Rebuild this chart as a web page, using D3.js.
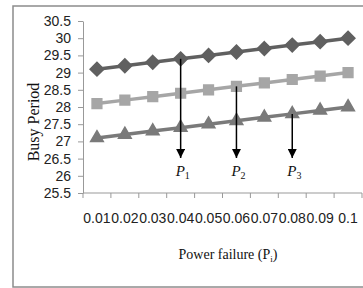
<!DOCTYPE html>
<html>
<head>
<meta charset="utf-8">
<script src="https://cdn.jsdelivr.net/npm/d3@7"></script>
<style>
  body { margin: 0; background: #fff; }
  .tick text { font-family: "Liberation Sans", Arial, sans-serif; font-size: 14px; fill: #222; }
  .axis path, .axis line { stroke: #999; }
  .title { font-family: "Liberation Serif", "Times New Roman", serif; fill: #111; }
</style>
</head>
<body>
<svg id="myGraph" width="363" height="288"></svg>
<script>
// data
var categories = ["0.01", "0.02", "0.03", "0.04", "0.05", "0.06", "0.07", "0.08", "0.09", "0.1"];
var series1 = [29.1, 29.2, 29.3, 29.4, 29.5, 29.6, 29.7, 29.8, 29.9, 30.0]; // diamonds
var series2 = [28.1, 28.2, 28.3, 28.4, 28.5, 28.6, 28.7, 28.8, 28.9, 29.0]; // squares
var series3 = [27.1, 27.2, 27.3, 27.4, 27.5, 27.6, 27.7, 27.8, 27.9, 28.0]; // triangles
var yTicks = [25.5, 26, 26.5, 27, 27.5, 28, 28.5, 29, 29.5, 30, 30.5];
// arrows: which series / category they start from
var arrowSeries = [1, 2, 3];
var arrowCats = ["0.04", "0.06", "0.08"];

var svg = d3.select("#myGraph");

// frame
svg.append("rect")
  .attr("x", 13).attr("y", 6)
  .attr("width", 360).attr("height", 281)
  .attr("fill", "none").attr("stroke", "#8c8c8c").attr("stroke-width", 1.5);

var pLeft = 83, pRight = 362, pTop = 21, pBottom = 193;

var x = d3.scaleBand().domain(categories).range([pLeft, pRight]);
var y = d3.scaleLinear().domain([25.5, 30.5]).range([pBottom, pTop]);

// y axis
svg.append("g")
  .attr("class", "axis")
  .attr("transform", "translate(" + pLeft + ",0)")
  .call(d3.axisLeft(y).tickValues(yTicks).tickSize(5).tickPadding(7).tickSizeOuter(0)
    .tickFormat(function(d){ return d; }));

// x axis (ticks on band edges)
var xg = svg.append("g")
  .attr("class", "axis")
  .attr("transform", "translate(0," + pBottom + ")")
  .call(d3.axisBottom(x).tickSize(0).tickPadding(20).tickSizeOuter(0));
xg.select(".domain").attr("d", "M" + pLeft + ",0H" + pRight);
xg.selectAll(".edge")
  .data(categories.concat(["end"]))
  .enter().append("line")
  .attr("stroke", "#999")
  .attr("x1", function(d, i){ return pLeft + i * x.bandwidth(); })
  .attr("x2", function(d, i){ return pLeft + i * x.bandwidth(); })
  .attr("y1", 0).attr("y2", 5);

var line = d3.line()
  .x(function(d, i){ return x(categories[i]) + x.bandwidth() / 2; })
  .y(function(d){ return y(d); });

var styles = [
  { data: series1, color: "#606060", shape: d3.symbolDiamond2, size: 120 },
  { data: series2, color: "#a6a6a6", shape: d3.symbolSquare2, size: 120 },
  { data: series3, color: "#7a7a7a", shape: d3.symbolTriangle2, size: 115 }
];

styles.forEach(function(s){
  svg.append("path")
    .attr("d", line(s.data))
    .attr("fill", "none")
    .attr("stroke", s.color)
    .attr("stroke-width", 3.5);
  svg.selectAll(null)
    .data(s.data)
    .enter().append("path")
    .attr("d", d3.symbol().type(s.shape).size(s.size))
    .attr("transform", function(d, i){
      return "translate(" + (x(categories[i]) + x.bandwidth() / 2) + "," + y(d) + ")";
    })
    .attr("fill", s.color).attr("stroke", s.color).attr("stroke-width", 1.5);
});

// arrows
var defs = svg.append("defs");
defs.append("marker")
  .attr("id", "arr")
  .attr("viewBox", "0 0 10 10")
  .attr("refX", 10).attr("refY", 5)
  .attr("markerWidth", 10).attr("markerHeight", 9)
  .attr("markerUnits", "userSpaceOnUse")
  .attr("orient", "auto")
  .append("path").attr("d", "M0,0L10,5L0,10Z").attr("fill", "#000");

arrowCats.forEach(function(c, k){
  var idx = categories.indexOf(c);
  var v = styles[arrowSeries[k] - 1].data[idx];
  var cx = x(c) + x.bandwidth() / 2;
  svg.append("line")
    .attr("x1", cx).attr("x2", cx)
    .attr("y1", y(v)).attr("y2", 158)
    .attr("stroke", "#000").attr("stroke-width", 1.5)
    .attr("marker-end", "url(#arr)");
  var t = svg.append("text")
    .attr("class", "title")
    .attr("x", cx - 5).attr("y", 176)
    .attr("font-size", 15)
    .attr("font-style", "italic")
    .text("P");
  t.append("tspan")
    .attr("font-size", 10).attr("font-style", "normal")
    .attr("dy", 3).text(k + 1);
});

// axis titles
svg.append("text")
  .attr("class", "title")
  .attr("transform", "translate(39,122) rotate(-90)")
  .attr("text-anchor", "middle")
  .attr("font-size", 16)
  .text("Busy Period");

var xt = svg.append("text")
  .attr("class", "title")
  .attr("x", 228).attr("y", 259)
  .attr("text-anchor", "middle")
  .attr("font-size", 14)
  .text("Power failure (P");
xt.append("tspan").attr("font-size", 9).attr("dy", 3).text("i");
xt.append("tspan").attr("dy", -3).text(")");
</script>
</body>
</html>
